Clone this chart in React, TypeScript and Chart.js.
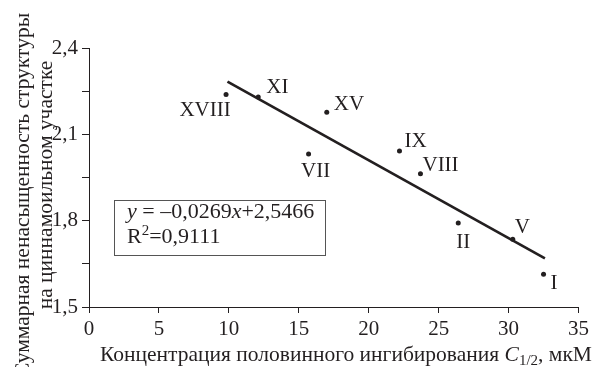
import React, { useEffect, useRef } from 'react';
import { Chart, registerables } from 'chart.js';

Chart.register(...registerables);

// ---- Data ----
const compounds = ['XVIII', 'XI', 'XV', 'VII', 'IX', 'VIII', 'II', 'V', 'I'];
const concentration = [9.8, 12.1, 17.0, 15.7, 22.2, 23.7, 26.4, 30.3, 32.5];
const unsaturation = [2.238, 2.23, 2.177, 2.032, 2.042, 1.963, 1.792, 1.735, 1.614];
const trendX = [9.9, 32.6];
const trendY = [2.283, 1.669];
const xTickValues = [0, 5, 10, 15, 20, 25, 30, 35];
const xTickLabels = ['0', '5', '10', '15', '20', '25', '30', '35'];
const yTickValues = [1.5, 1.65, 1.8, 1.95, 2.1, 2.25, 2.4];
const yTickLabels = ['1,5', '', '1,8', '', '2,1', '', '2,4'];
const yTitleLines = ['Суммарная ненасыщенность структуры', 'на циннамоильном участке'];
const xTitleMain = 'Концентрация половинного ингибирования ';
const xTitleVar = 'C';
const xTitleSub = '1/2';
const xTitleUnit = ', мкМ';
const eqSlope = '–0,0269';
const eqIntercept = '+2,5466';
const eqR2 = '=0,9111';

// label placement (style only): [dx, dy, align]
const labelPlacement: [number, number, CanvasTextAlign][] = [
  [-21, 21, 'center'],
  [8, -4, 'left'],
  [7, -2, 'left'],
  [7, 23, 'center'],
  [5, -4, 'left'],
  [2, -3, 'left'],
  [-2, 25, 'left'],
  [2, -6, 'left'],
  [7, 15, 'left'],
];

const FONT = '"Liberation Serif", "Times New Roman", serif';
const INK = '#231f20';

const annotations = {
  id: 'annotations',
  afterDraw(chart: any) {
    const ctx = chart.ctx as CanvasRenderingContext2D;
    const xs = chart.scales.x;
    const ys = chart.scales.y;
    ctx.save();
    ctx.fillStyle = INK;

    // point labels
    ctx.font = `21px ${FONT}`;
    ctx.textBaseline = 'alphabetic';
    compounds.forEach((name, i) => {
      const px = xs.getPixelForValue(concentration[i]);
      const py = ys.getPixelForValue(unsaturation[i]);
      const [dx, dy, align] = labelPlacement[i];
      ctx.textAlign = align;
      ctx.fillText(name, px + dx, py + dy);
    });

    // y-axis title (two rotated lines)
    ctx.textAlign = 'center';
    ctx.font = `21.5px ${FONT}`;
    const yCenters = [195, 185];
    const yBase = [29, 52];
    yTitleLines.forEach((line, i) => {
      ctx.save();
      ctx.translate(yBase[i], yCenters[i]);
      ctx.rotate(-Math.PI / 2);
      ctx.fillText(line, 0, 0);
      ctx.restore();
    });

    // x-axis title with italic C and subscript
    ctx.textAlign = 'left';
    let x = 100;
    const base = 361;
    ctx.font = `21.5px ${FONT}`;
    ctx.fillText(xTitleMain, x, base);
    x += ctx.measureText(xTitleMain).width;
    ctx.font = `italic 21.5px ${FONT}`;
    ctx.fillText(xTitleVar, x, base);
    x += ctx.measureText(xTitleVar).width;
    ctx.font = `15px ${FONT}`;
    ctx.fillText(xTitleSub, x, base + 4);
    x += ctx.measureText(xTitleSub).width;
    ctx.font = `21.5px ${FONT}`;
    ctx.fillText(xTitleUnit, x, base);

    // equation box
    ctx.strokeStyle = '#555';
    ctx.lineWidth = 1;
    ctx.strokeRect(114.5, 200.5, 211, 55);
    let ex = 127;
    const b1 = 218;
    const parts: [string, string][] = [
      ['y', 'italic'],
      [' = ', ''],
      [eqSlope, ''],
      ['x', 'italic'],
      [eqIntercept, ''],
    ];
    parts.forEach(([t, st]) => {
      ctx.font = `${st} 22px ${FONT}`.trim();
      ctx.fillText(t, ex, b1);
      ex += ctx.measureText(t).width;
    });
    ex = 127;
    const b2 = 243;
    ctx.font = `22px ${FONT}`;
    ctx.fillText('R', ex, b2);
    ex += ctx.measureText('R').width;
    ctx.font = `15px ${FONT}`;
    ctx.fillText('2', ex, b2 - 8);
    ex += ctx.measureText('2').width;
    ctx.font = `22px ${FONT}`;
    ctx.fillText(eqR2, ex, b2);

    ctx.restore();
  },
};

export default function App() {
  const ref = useRef<HTMLCanvasElement | null>(null);

  useEffect(() => {
    if (!ref.current) return;
    const chart = new Chart(ref.current, {
      type: 'scatter',
      data: {
        datasets: [
          {
            type: 'line',
            data: trendX.map((v, i) => ({ x: v, y: trendY[i] })),
            borderColor: INK,
            borderWidth: 2.7,
            pointRadius: 0,
            fill: false,
          } as any,
          {
            type: 'scatter',
            data: concentration.map((v, i) => ({ x: v, y: unsaturation[i] })),
            backgroundColor: INK,
            borderColor: INK,
            pointRadius: 2.5,
            borderWidth: 0,
          },
        ],
      },
      options: {
        animation: false,
        responsive: false,
        maintainAspectRatio: false,
        layout: { padding: { top: 48, right: 11, left: 0, bottom: 0 } },
        plugins: { legend: { display: false }, tooltip: { enabled: false } },
        scales: {
          x: {
            type: 'linear',
            min: 0,
            max: 35,
            afterBuildTicks: (s: any) => {
              s.ticks = xTickValues.map((v) => ({ value: v }));
            },
            afterFit: (s: any) => {
              s.height = 60;
            },
            ticks: {
              callback: (_v: any, i: number) => xTickLabels[i],
              font: { family: FONT, size: 21 },
              color: INK,
              padding: 4,
              maxRotation: 0,
              autoSkip: false,
            },
            grid: { display: true, drawOnChartArea: false, drawTicks: true, tickLength: 6, color: INK, lineWidth: 1 },
            border: { display: true, color: INK, width: 1 },
          },
          y: {
            type: 'linear',
            min: 1.5,
            max: 2.4,
            afterBuildTicks: (s: any) => {
              s.ticks = yTickValues.map((v) => ({ value: v }));
            },
            afterFit: (s: any) => {
              s.width = 89;
            },
            ticks: {
              callback: (_v: any, i: number) => yTickLabels[i],
              font: { family: FONT, size: 21 },
              color: INK,
              padding: 4,
              autoSkip: false,
            },
            grid: { display: true, drawOnChartArea: false, drawTicks: true, tickLength: 7, color: INK, lineWidth: 1 },
            border: { display: true, color: INK, width: 1 },
          },
        },
      },
      plugins: [annotations],
    });
    return () => chart.destroy();
  }, []);

  return (
    <div style={{ position: 'fixed', left: 0, top: 0, width: 593, height: 367, background: '#fff' }}>
      <canvas ref={ref} width={593} height={367} style={{ display: 'block' }} />
    </div>
  );
}
